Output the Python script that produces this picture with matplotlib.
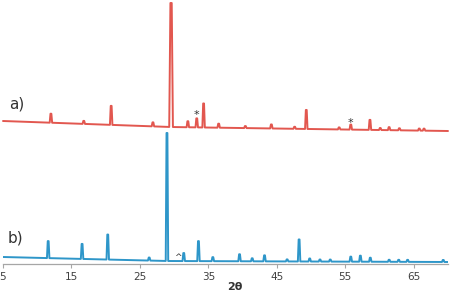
import numpy as np
import matplotlib
matplotlib.use("Agg")
import matplotlib.pyplot as plt

# ---- data ----
# sample a) (red): peak positions (2θ) and heights above baseline (arb. units)
red_pos = [12.0, 16.8, 20.8, 26.9, 29.55, 32.0, 33.3, 34.3, 36.5, 40.4, 44.2,
           47.6, 49.3, 54.1, 55.8, 58.6, 60.1, 61.4, 62.9, 65.8, 66.5]
red_h = [9, 3, 19, 4, 124, 6, 9, 24, 4, 2, 4, 2, 19, 2, 5, 10, 2, 3, 2, 2, 2]
red_base_x = [5, 29.5, 70]
red_base_y = [143, 137, 133]

# sample b) (blue)
blue_pos = [11.6, 16.55, 20.3, 26.35, 28.95, 31.4, 33.55, 35.65, 39.55, 41.4,
            43.2, 46.5, 48.25, 49.8, 51.3, 52.8, 55.8, 57.2, 58.65, 61.4,
            62.8, 64.1, 69.3]
blue_h = [17, 15, 25, 3, 128, 8, 20, 4, 7, 3, 6, 2, 22, 3, 2, 2, 5, 6, 4, 2,
          2, 2, 2]
blue_base_x = [5, 29, 70]
blue_base_y = [7, 3, 2]

# markers
star_pos = [33.3, 55.8]
star_y = [149, 141]
caret_pos = [30.5]
caret_y = [7]

xticks = [5, 15, 25, 35, 45, 55, 65]


def trace(pos, h, bx, by, hw=0.18, wide=None):
    xs = [bx[0]]
    for p, hh in zip(pos, h):
        w = hw * 1.5 if (wide is not None and hh == wide) else hw
        xs += [p - w, p - w * 0.35, p + w * 0.35, p + w]
    xs.append(bx[-1])
    xs = np.array(xs)
    ys = np.interp(xs, bx, by)
    k = 1
    for p, hh in zip(pos, h):
        ys[k + 1] += hh
        ys[k + 2] += hh
        k += 4
    return xs, ys


W, H = 454, 294
fig = plt.figure(figsize=(W / 100, H / 100), dpi=100)
ax = fig.add_axes([3 / W, 30 / H, 445 / W, 264 / H])
ax.set_xlim(5, 70)
ax.set_ylim(0, 264)

rx, ry = trace(red_pos, red_h, red_base_x, red_base_y, wide=max(red_h))
bx_, by_ = trace(blue_pos, blue_h, blue_base_x, blue_base_y)
ax.plot(rx, ry, color="#e2574f", lw=1.4, solid_joinstyle="round",
        solid_capstyle="round", clip_on=False)
ax.plot(bx_, by_, color="#2e96c9", lw=1.4, solid_joinstyle="round")

for p, y in zip(star_pos, star_y):
    ax.text(p, y, "*", ha="center", va="center", fontsize=8, color="#333333")
for p, y in zip(caret_pos, caret_y):
    ax.text(p, y, "^", ha="center", va="center", fontsize=6.5, color="#333333")

ax.text(5.9, 160, "a)", fontsize=11, color="#333333", va="center")
ax.text(5.7, 26, "b)", fontsize=11, color="#333333", va="center")

for s in ["top", "right", "left"]:
    ax.spines[s].set_visible(False)
ax.spines["bottom"].set_color("#a6a6a6")
ax.spines["bottom"].set_linewidth(0.9)
ax.set_yticks([])
ax.set_xticks(xticks)
ax.set_xticklabels([str(t) for t in xticks])
ax.tick_params(axis="x", colors="#a6a6a6", labelcolor="#404040", labelsize=7.5,
               length=3, width=0.8, pad=3, direction="out")
ax.set_xlabel("2θ", fontsize=8, fontweight="bold", color="#333333", labelpad=1)
ax.xaxis.set_label_coords(0.52, -0.07)

fig.savefig("out.png", dpi=100)
